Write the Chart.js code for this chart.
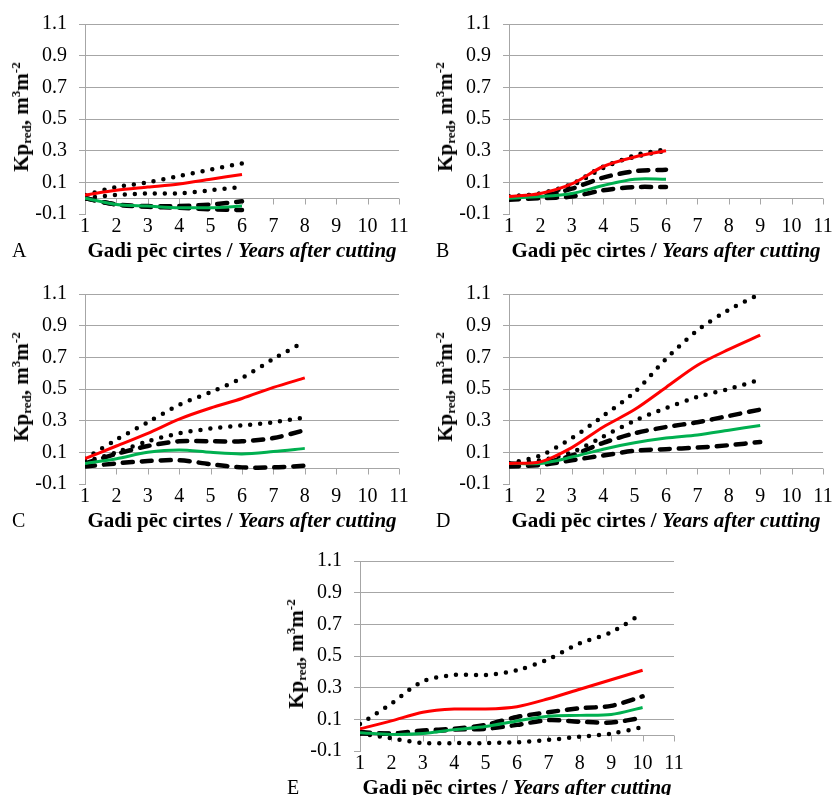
<!DOCTYPE html>
<html>
<head>
<meta charset="utf-8">
<script src="https://cdn.jsdelivr.net/npm/chart.js@4.4.1/dist/chart.umd.min.js"></script>
<style>
  body { margin: 0; background: #fff; width: 835px; height: 795px; position: relative; overflow: hidden;
         font-family: "Liberation Serif", "Times New Roman", serif; color: #000; }
  .panel { position: absolute; width: 420px; height: 262px; }
  .panel canvas { position: absolute; left: 0; top: 0; }
  .ytitle { position: absolute; left: 21px; top: 117px; transform: translate(-50%, -50%) rotate(-90deg);
            font-weight: bold; font-size: 21px; white-space: nowrap; line-height: 1; }
  .ytitle sub { font-size: 13px; vertical-align: -3px; }
  .ytitle sup { font-size: 13px; vertical-align: 8px; }
  .xtitle { position: absolute; left: 242px; top: 250px; transform: translate(-50%, -50%);
            font-weight: bold; font-size: 21px; white-space: nowrap; }
  .letter { position: absolute; left: 12px; top: 250px; transform: translateY(-50%); font-size: 20px; }
</style>
</head>
<body>

<script>
// ----- Data -----
const xTicks = [1, 2, 3, 4, 5, 6, 7, 8, 9, 10, 11];
const yTicks = [-0.1, 0.1, 0.3, 0.5, 0.7, 0.9, 1.1];

// Panel A
const yearsA   = [1, 2, 3, 4, 5, 6];
const redA     = [0.02, 0.05, 0.07, 0.09, 0.12, 0.15];
const greenA   = [0.0, -0.04, -0.05, -0.06, -0.06, -0.05];
const dashHiA  = [0.0, -0.04, -0.05, -0.05, -0.04, -0.02];
const dashLoA  = [0.0, -0.04, -0.055, -0.06, -0.07, -0.075];
const dotHiA   = [0.02, 0.07, 0.10, 0.14, 0.18, 0.22];
const dotLoA   = [0.0, 0.02, 0.03, 0.03, 0.05, 0.07];

// Panel B
const yearsB   = [1, 2, 3, 4, 5, 6];
const redB     = [0.01, 0.03, 0.09, 0.20, 0.26, 0.30];
const greenB   = [0.0, 0.01, 0.03, 0.08, 0.12, 0.12];
const dashHiB  = [0.0, 0.01, 0.06, 0.13, 0.17, 0.18];
const dashLoB  = [-0.01, 0.0, 0.01, 0.05, 0.07, 0.07];
const dotHiB   = [0.01, 0.03, 0.08, 0.19, 0.27, 0.31];
const dotLoB   = [0.01, 0.03, 0.09, 0.20, 0.26, 0.30];

// Panel C
const yearsC   = [1, 2, 3, 4, 5, 6, 7, 8];
const redC     = [0.06, 0.14, 0.22, 0.31, 0.38, 0.44, 0.51, 0.57];
const greenC   = [0.03, 0.06, 0.10, 0.115, 0.10, 0.09, 0.105, 0.125];
const dashHiC  = [0.03, 0.09, 0.14, 0.17, 0.17, 0.17, 0.19, 0.24];
const dashLoC  = [0.01, 0.03, 0.045, 0.05, 0.025, 0.005, 0.005, 0.015];
const dotHiC   = [0.06, 0.18, 0.29, 0.40, 0.48, 0.57, 0.69, 0.80];
const dotLoC   = [0.04, 0.10, 0.17, 0.22, 0.25, 0.27, 0.29, 0.32];

// Panel D
const yearsD   = [1, 2, 3, 4, 5, 6, 7, 8, 9];
const redD     = [0.03, 0.04, 0.13, 0.26, 0.37, 0.51, 0.65, 0.75, 0.84];
const greenD   = [0.03, 0.03, 0.07, 0.12, 0.16, 0.19, 0.21, 0.24, 0.27];
const dashHiD  = [0.03, 0.03, 0.08, 0.16, 0.22, 0.26, 0.29, 0.33, 0.37];
const dashLoD  = [0.01, 0.02, 0.05, 0.08, 0.11, 0.12, 0.13, 0.145, 0.165];
const dotHiD   = [0.03, 0.08, 0.19, 0.33, 0.48, 0.69, 0.87, 1.0, 1.1];
const dotLoD   = [0.03, 0.05, 0.10, 0.20, 0.30, 0.38, 0.45, 0.50, 0.56];

// Panel E
const yearsE   = [1, 2, 3, 4, 5, 6, 7, 8, 9, 10];
const redE     = [0.04, 0.09, 0.145, 0.165, 0.165, 0.18, 0.23, 0.29, 0.35, 0.41];
const greenE   = [0.015, 0.005, 0.01, 0.035, 0.055, 0.09, 0.12, 0.125, 0.13, 0.175];
const dashHiE  = [0.02, 0.01, 0.03, 0.04, 0.065, 0.115, 0.145, 0.17, 0.185, 0.245];
const dashLoE  = [0.01, 0.01, 0.02, 0.035, 0.04, 0.065, 0.095, 0.085, 0.08, 0.11];
const dotHiE   = [0.07, 0.20, 0.34, 0.38, 0.38, 0.41, 0.48, 0.58, 0.65, 0.77];
const dotLoE   = [0.01, -0.02, -0.05, -0.05, -0.05, -0.045, -0.03, -0.01, 0.01, 0.05];

// ----- Styles -----
const GRID = '#a6a6a6';
const FONT = { family: '"Liberation Serif", "Times New Roman", serif', size: 20 };

function lineSet(years, values, color, width, dash) {
    return {
        data: years.map((x, i) => ({ x: x, y: values[i] })),
        borderColor: color,
        borderWidth: width,
        borderDash: dash,
        borderCapStyle: dash.length ? 'round' : 'butt',
        pointRadius: 0,
        tension: 0.3,
        fill: false
    };
}

// horizontal axis sits at y = 0, with tick marks hanging down
const zeroAxis = {
    id: 'zeroAxis',
    beforeDatasetsDraw(chart) {
        const ctx = chart.ctx, xs = chart.scales.x, ys = chart.scales.y;
        const y0 = Math.round(ys.getPixelForValue(0)) + 0.5;
        ctx.save();
        ctx.strokeStyle = GRID;
        ctx.lineWidth = 1;
        ctx.beginPath();
        ctx.moveTo(xs.left, y0);
        ctx.lineTo(xs.right, y0);
        xs.ticks.forEach(function (t) {
            const px = Math.round(xs.getPixelForValue(t.value)) + 0.5;
            ctx.moveTo(px, y0);
            ctx.lineTo(px, y0 + 6);
        });
        ctx.stroke();
        ctx.restore();
    }
};

function makePanel(left, top, width, letter, years, red, green, dashHi, dashLo, dotHi, dotLo) {
    const div = document.createElement('div');
    div.className = 'panel';
    div.style.left = left + 'px';
    div.style.top = top + 'px';
    div.innerHTML =
        '<canvas width="' + width + '" height="240" style="width:' + width + 'px;height:240px"></canvas>' +
        '<div class="ytitle">Kp<sub>red</sub>, m<sup>3</sup>m<sup>-2</sup></div>' +
        '<div class="xtitle">Gadi pēc cirtes / <i>Years after cutting</i></div>' +
        '<div class="letter">' + letter + '</div>';
    document.body.appendChild(div);

    new Chart(div.querySelector('canvas'), {
        type: 'line',
        data: {
            datasets: [
                lineSet(years, red, '#ff0000', 3, []),
                lineSet(years, green, '#00b050', 3, []),
                lineSet(years, dashHi, '#000000', 4.5, [10, 9]),
                lineSet(years, dashLo, '#000000', 4.5, [10, 9]),
                lineSet(years, dotHi, '#000000', 4.5, [0, 10]),
                lineSet(years, dotLo, '#000000', 4.5, [0, 10])
            ]
        },
        options: {
            responsive: false,
            animation: false,
            layout: { padding: { left: 0, right: width - 399, top: 17, bottom: 0 } },
            plugins: { legend: { display: false }, tooltip: { enabled: false } },
            scales: {
                x: {
                    type: 'linear',
                    min: 1,
                    max: 11,
                    afterBuildTicks: function (s) { s.ticks = xTicks.map(v => ({ value: v })); },
                    afterFit: function (s) { s.height = 26; },
                    grid: { display: false, drawTicks: false },
                    border: { display: false },
                    ticks: { font: FONT, color: '#000', padding: 1, maxRotation: 0, autoSkip: false }
                },
                y: {
                    min: -0.1,
                    max: 1.1,
                    afterBuildTicks: function (s) { s.ticks = yTicks.map(v => ({ value: v })); },
                    afterFit: function (s) { s.width = 85; },
                    grid: {
                        color: function (c) { return c.tick && c.tick.value < 0 ? 'rgba(0,0,0,0)' : GRID; },
                        tickColor: GRID,
                        tickLength: 6,
                        lineWidth: 1
                    },
                    border: { display: true, color: GRID },
                    ticks: {
                        font: FONT,
                        color: '#000',
                        padding: 12,
                        callback: function (v) { return v.toFixed(1); }
                    }
                }
            }
        },
        plugins: [zeroAxis]
    });
}

makePanel(0, 0, 420, 'A', yearsA, redA, greenA, dashHiA, dashLoA, dotHiA, dotLoA);
makePanel(424, 0, 411, 'B', yearsB, redB, greenB, dashHiB, dashLoB, dotHiB, dotLoB);
makePanel(0, 270, 420, 'C', yearsC, redC, greenC, dashHiC, dashLoC, dotHiC, dotLoC);
makePanel(424, 270, 411, 'D', yearsD, redD, greenD, dashHiD, dashLoD, dotHiD, dotLoD);
makePanel(275, 537, 420, 'E', yearsE, redE, greenE, dashHiE, dashLoE, dotHiE, dotLoE);
</script>
</body>
</html>
